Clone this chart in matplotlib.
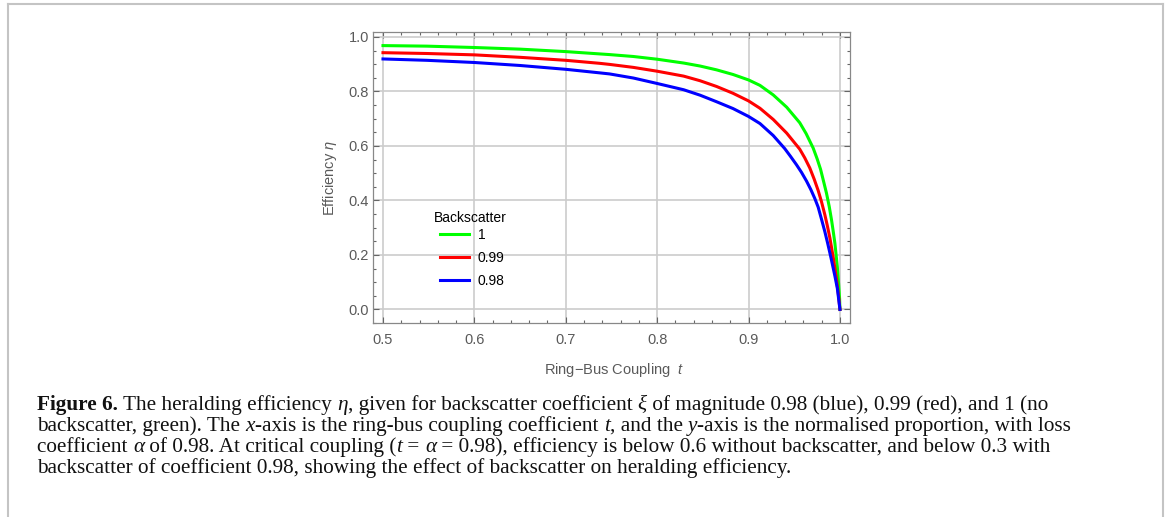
import numpy as np
import matplotlib
matplotlib.use('Agg')
import matplotlib.pyplot as plt
from matplotlib.lines import Line2D
from matplotlib.ticker import MultipleLocator, FormatStrFormatter

# values
t_green = [0.5, 0.548, 0.6, 0.65, 0.7, 0.737, 0.748, 0.774, 0.8, 0.829, 0.847, 0.865, 0.883,
           0.9, 0.9125, 0.927, 0.9417, 0.956, 0.963, 0.9707, 0.9751, 0.9788, 0.982, 0.9853,
           0.9883, 0.9908, 0.9927, 0.9945, 0.9971, 0.9985, 0.9996, 1.0]
eta_green = [0.968, 0.966, 0.961, 0.955, 0.946, 0.9375, 0.935, 0.928, 0.918, 0.904, 0.893, 0.879, 0.862,
             0.842, 0.822, 0.787, 0.742, 0.685, 0.645, 0.592, 0.552, 0.514, 0.471, 0.426,
             0.377, 0.328, 0.285, 0.242, 0.157, 0.095, 0.040, 0.0]

t_red = [0.5, 0.548, 0.6, 0.65, 0.7, 0.737, 0.748, 0.774, 0.8, 0.829, 0.847, 0.865, 0.883,
         0.9, 0.9125, 0.927, 0.9417, 0.956, 0.9615, 0.967, 0.9718, 0.9762, 0.9799, 0.9835,
         0.9864, 0.989, 0.9927, 0.9945, 0.9963, 0.9982, 1.0]
eta_red = [0.942, 0.939, 0.934, 0.925, 0.914, 0.903, 0.899, 0.888, 0.874, 0.856, 0.839, 0.818, 0.793,
           0.765, 0.738, 0.697, 0.647, 0.588, 0.556, 0.519, 0.478, 0.436, 0.394, 0.347,
           0.304, 0.262, 0.190, 0.150, 0.108, 0.058, 0.0]

t_blue = [0.5, 0.548, 0.6, 0.65, 0.7, 0.737, 0.748, 0.774, 0.8, 0.829, 0.847, 0.865, 0.883,
          0.9, 0.9125, 0.927, 0.9396, 0.9458, 0.9524, 0.9579, 0.9634, 0.9681, 0.9725, 0.9762,
          0.9799, 0.9835, 0.9864, 0.989, 0.9908, 0.9945, 0.9971, 1.0]
eta_blue = [0.919, 0.914, 0.906, 0.895, 0.881, 0.868, 0.864, 0.849, 0.829, 0.806, 0.786, 0.762, 0.737,
            0.708, 0.682, 0.638, 0.590, 0.562, 0.531, 0.503, 0.471, 0.440, 0.407, 0.375,
            0.330, 0.285, 0.245, 0.207, 0.180, 0.122, 0.078, 0.0]

labels = ['1', '0.99', '0.98']
colors = ['#00ff00', '#ff0000', '#0000ff']

# caption lines as runs of (text, style): n = normal, b = bold, i = italic
caption = [
    [("Figure 6.", 'b'), (" The heralding efficiency ", 'n'), ("\u03b7", 'i'),
     (", given for backscatter coefficient ", 'n'), ("\u03be", 'i'),
     (" of magnitude 0.98 (blue), 0.99 (red), and 1 (no", 'n')],
    [("backscatter, green). The ", 'n'), ("x", 'i'), ("-axis is the ring-bus coupling coefficient ", 'n'),
     ("t", 'i'), (", and the ", 'n'), ("y", 'i'), ("-axis is the normalised proportion, with loss", 'n')],
    [("coefficient ", 'n'), ("\u03b1", 'i'), (" of 0.98. At critical coupling (", 'n'), ("t", 'i'),
     (" = ", 'n'), ("\u03b1", 'i'),
     (" = 0.98), efficiency is below 0.6 without backscatter, and below 0.3 with", 'n')],
    [("backscatter of coefficient 0.98, showing the effect of backscatter on heralding efficiency.", 'n')],
]

plt.rcParams['mathtext.fontset'] = 'custom'
plt.rcParams['mathtext.sf'] = 'Liberation Sans:italic'

W, H = 1167, 517
fig = plt.figure(figsize=(W / 100, H / 100), dpi=100)


def fx(px):
    return px / W


def fy(py):
    return 1 - py / H


ax = fig.add_axes([fx(373.3), fy(323.3), fx(850) - fx(373.3), fy(31.7) - fy(323.3)])

for tt, ee, c, lab in zip([t_green, t_red, t_blue], [eta_green, eta_red, eta_blue], colors, labels):
    ax.plot(tt, ee, color=c, lw=2.2, label=lab)

ax.set_xlim(0.4894, 1.011)
ax.set_ylim(-0.051, 1.019)
ax.xaxis.set_major_locator(MultipleLocator(0.1))
ax.xaxis.set_minor_locator(MultipleLocator(0.02))
ax.yaxis.set_major_locator(MultipleLocator(0.2))
ax.yaxis.set_minor_locator(MultipleLocator(0.05))
ax.xaxis.set_major_formatter(FormatStrFormatter('%.1f'))
ax.yaxis.set_major_formatter(FormatStrFormatter('%.1f'))
ax.tick_params(which='both', direction='in', top=True, right=True, color='#666666',
               labelcolor='#5a5a5a', labelsize=10.5, width=0.8)
ax.tick_params(which='major', length=4.5)
ax.tick_params(which='minor', length=2.5)
ax.tick_params(axis='x', pad=7)
ax.tick_params(axis='y', pad=3)
for lab in ax.get_xticklabels() + ax.get_yticklabels():
    lab.set_fontfamily('Liberation Sans')
ax.grid(which='major', color='#cccccc', lw=1.2)
ax.set_axisbelow(True)
for sp in ax.spines.values():
    sp.set_color('#888888')
    sp.set_linewidth(0.9)

fig.text(fx(330), fy(178), r"Efficiency $\mathsf{\eta}$", rotation=90, ha='center', va='center',
         fontsize=10.5, color='#5a5a5a', family='Liberation Sans')
fig.text(fx(614), fy(370), "Ring\u2212Bus Coupling  $\\mathsf{t}$", ha='center', va='center',
         fontsize=10.5, color='#5a5a5a', family='Liberation Sans')

fig.text(fx(434), fy(218), "Backscatter", ha='left', va='center', fontsize=10,
         color='black', family='Liberation Sans')
leg = ax.legend(loc='upper left', bbox_to_anchor=(fx(440), fy(228)), bbox_transform=fig.transFigure,
                frameon=False, borderpad=0, borderaxespad=0, handlelength=2.08,
                handletextpad=0.65, labelspacing=0.66, prop={'family': 'Liberation Sans', 'size': 10})

# caption under the chart, placed run by run
renderer = fig.canvas.get_renderer()
cap_size = 15.3
styles = {'n': dict(), 'b': dict(weight='bold'), 'i': dict(style='italic')}


def advance(s, kw):
    a = fig.text(0, 0, 'x' + s + 'x', **kw)
    b = fig.text(0, 0, 'xx', **kw)
    w = a.get_window_extent(renderer).width - b.get_window_extent(renderer).width
    a.remove()
    b.remove()
    return w


for i, runs in enumerate(caption):
    x = 37.0
    y = 410 + 21 * i
    for s, st in runs:
        kw = dict(fontsize=cap_size, family='Liberation Serif', color='#111111', **styles[st])
        fig.text(fx(x), fy(y), s, ha='left', va='baseline', **kw)
        x += advance(s, kw)

# page frame around the figure
frame = dict(transform=fig.transFigure, color='#c4c4c4', lw=1.5)
fig.add_artist(Line2D([fx(8), fx(8)], [0, fy(4)], **frame))
fig.add_artist(Line2D([fx(8), fx(1163)], [fy(4), fy(4)], **frame))
fig.add_artist(Line2D([fx(1163), fx(1163)], [fy(4), 0], **frame))

fig.savefig('out.png', dpi=100)
